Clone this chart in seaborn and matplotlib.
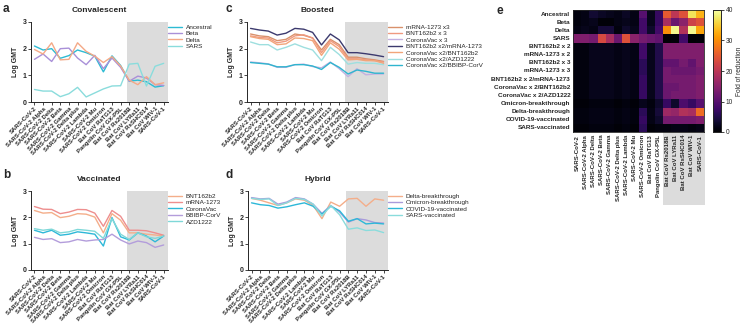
import numpy as np
import pandas as pd
import matplotlib
matplotlib.use("Agg")
import matplotlib.pyplot as plt
import matplotlib.transforms as mtransforms
from matplotlib.patches import Rectangle
import seaborn as sns

# ---------------------------------------------------------
# Data
# ---------------------------------------------------------
variants = ["SARS-CoV-2", "SARS-CoV-2 Alpha", "SARS-CoV-2 Delta", "SARS-CoV-2 Beta",
            "SARS-CoV-2 Gamma", "SARS-CoV-2 Delta plus", "SARS-CoV-2 Lambda", "SARS-CoV-2 Mu",
            "SARS-CoV-2 Omicron", "Bat CoV RaTG13", "Pangolin CoV GX-P5L", "Bat CoV Rs2018B",
            "Bat CoV LYRa11", "Bat CoV RsSHC014", "Bat CoV WIV-1", "SARS-CoV-1"]

# a: Convalescent
conv_ancestral = [2.10, 1.95, 2.00, 1.64, 1.74, 1.95, 1.85, 1.72, 1.13, 1.73, 1.37, 0.78, 0.82, 0.76, 0.56, 0.61]
conv_beta = [1.60, 1.80, 1.52, 2.00, 2.02, 1.65, 1.40, 1.75, 1.25, 1.65, 1.30, 0.78, 0.97, 0.90, 0.65, 0.62]
conv_delta = [1.97, 1.80, 2.22, 1.58, 1.60, 2.22, 1.90, 1.72, 1.48, 1.70, 1.35, 0.82, 0.65, 0.95, 0.65, 0.72]
conv_sars = [0.47, 0.41, 0.41, 0.20, 0.31, 0.55, 0.19, 0.34, 0.49, 0.60, 0.61, 1.42, 1.45, 0.60, 1.34, 1.45]

# b: Vaccinated
vac_bnt = [2.26, 2.16, 2.18, 1.99, 2.04, 2.14, 2.12, 2.01, 1.41, 2.14, 1.89, 1.41, 1.41, 1.36, 1.33, 1.29]
vac_mrna = [2.41, 2.31, 2.30, 2.14, 2.20, 2.30, 2.29, 2.16, 1.66, 2.26, 2.04, 1.51, 1.51, 1.49, 1.41, 1.32]
vac_coronavac = [1.51, 1.41, 1.51, 1.32, 1.36, 1.45, 1.41, 1.36, 0.91, 1.99, 1.26, 1.14, 1.41, 1.29, 1.07, 1.29]
vac_bbibp = [1.24, 1.16, 1.19, 1.04, 1.07, 1.16, 1.10, 1.14, 1.16, 1.36, 1.14, 0.99, 1.10, 1.04, 0.86, 0.95]
vac_azd = [1.57, 1.51, 1.55, 1.41, 1.45, 1.54, 1.51, 1.47, 1.20, 1.95, 1.36, 1.16, 1.41, 1.26, 1.20, 1.29]

# c: Boosted
boost_mrna3 = [2.55, 2.48, 2.45, 2.30, 2.35, 2.55, 2.50, 2.40, 1.95, 2.35, 2.15, 1.68, 1.68, 1.62, 1.58, 1.52]
boost_bnt3 = [2.48, 2.42, 2.40, 2.22, 2.28, 2.48, 2.52, 2.40, 1.85, 2.30, 2.08, 1.62, 1.62, 1.58, 1.55, 1.50]
boost_cv3 = [1.50, 1.47, 1.43, 1.30, 1.30, 1.40, 1.42, 1.33, 1.28, 1.50, 1.25, 0.95, 1.25, 1.02, 1.05, 1.05]
boost_bnt2_mrna = [2.76, 2.70, 2.66, 2.51, 2.58, 2.76, 2.73, 2.61, 2.14, 2.55, 2.33, 1.85, 1.85, 1.81, 1.76, 1.70]
boost_cv2_bnt = [2.45, 2.38, 2.35, 2.15, 2.18, 2.40, 2.38, 2.30, 1.75, 2.22, 1.98, 1.58, 1.60, 1.55, 1.55, 1.45]
boost_cv2_azd = [2.25, 2.15, 2.15, 1.95, 2.05, 2.18, 2.05, 1.95, 1.55, 2.05, 1.78, 1.42, 1.48, 1.45, 1.45, 1.40]
boost_cv2_bbibp = [1.48, 1.45, 1.42, 1.32, 1.32, 1.40, 1.40, 1.35, 1.22, 1.48, 1.30, 1.05, 1.20, 1.15, 1.08, 1.08]

# d: Hybrid
hyb_delta_bt = [2.72, 2.65, 2.55, 2.45, 2.55, 2.70, 2.65, 2.45, 1.95, 2.58, 2.42, 2.70, 2.72, 2.42, 2.70, 2.65]
hyb_omicron_bt = [2.75, 2.70, 2.72, 2.50, 2.58, 2.75, 2.70, 2.50, 2.15, 2.45, 2.20, 1.82, 1.95, 1.90, 1.80, 1.78]
hyb_covid_vac = [2.55, 2.48, 2.45, 2.35, 2.40, 2.48, 2.55, 2.42, 2.12, 2.42, 2.25, 1.85, 1.95, 1.75, 1.78, 1.75]
hyb_sars_vac = [2.72, 2.68, 2.70, 2.45, 2.55, 2.72, 2.68, 2.50, 2.05, 2.45, 2.10, 1.55, 1.60, 1.50, 1.52, 1.42]

# e: fold of reduction heatmap
heat_rows = ["Ancestral", "Beta", "Delta", "SARS", "BNT162b2 x 2", "mRNA-1273 x 2",
             "BNT162b2 x 3", "mRNA-1273 x 3", "BNT162b2 x 2/mRNA-1273", "CoronaVac x 2/BNT162b2",
             "CoronaVac x 2/AZD1222", "Omicron-breakthrough", "Delta-breakthrough",
             "COVID-19-vaccinated", "SARS-vaccinated"]
fold_reduction = [
    [1.0, 1.5, 3.5, 2.5, 2.0, 1.5, 2.5, 1.5, 10.0, 2.0, 7.0, 25.0, 20.0, 24.0, 37.0, 33.0],
    [1.0, 1.5, 2.0, 0.5, 0.5, 1.5, 2.0, 1.5, 8.0, 2.0, 7.0, 18.0, 12.0, 15.0, 22.0, 24.0],
    [1.5, 2.0, 1.5, 4.0, 4.0, 1.0, 3.0, 2.0, 8.0, 3.0, 8.0, 30.0, 39.0, 19.0, 39.0, 32.0],
    [14.0, 14.0, 13.0, 23.0, 18.0, 12.0, 24.0, 15.0, 13.0, 12.0, 11.0, 0.3, 0.5, 8.0, 0.3, 0.5],
    [1.0, 1.0, 2.0, 2.0, 2.0, 1.5, 2.0, 1.5, 8.0, 2.0, 5.0, 14.0, 14.0, 14.0, 14.0, 14.0],
    [1.0, 1.0, 2.0, 2.0, 2.0, 1.5, 2.0, 1.5, 8.0, 2.0, 5.0, 14.0, 14.0, 14.0, 14.0, 14.0],
    [1.0, 1.0, 2.0, 2.0, 2.0, 1.5, 2.0, 1.5, 6.0, 2.0, 5.0, 11.0, 11.0, 13.0, 11.0, 14.0],
    [1.0, 1.0, 2.0, 2.0, 2.0, 1.5, 2.0, 1.5, 6.0, 2.0, 5.0, 13.0, 12.0, 12.0, 12.0, 13.0],
    [1.0, 1.0, 2.0, 2.0, 2.0, 1.5, 2.0, 1.5, 7.0, 2.0, 5.0, 13.0, 13.0, 13.0, 13.0, 14.0],
    [1.0, 1.0, 2.0, 2.0, 2.0, 1.5, 2.0, 1.5, 7.0, 2.0, 5.0, 12.0, 12.0, 13.0, 13.0, 14.0],
    [1.0, 1.0, 2.0, 2.0, 2.0, 1.5, 2.0, 1.5, 7.0, 2.0, 5.0, 12.0, 13.0, 13.0, 13.0, 14.0],
    [0.5, 0.5, 1.0, 1.0, 1.0, 0.5, 1.0, 0.5, 2.0, 1.0, 3.0, 7.0, 3.0, 9.0, 7.0, 10.0],
    [1.0, 1.0, 1.5, 1.5, 1.5, 1.0, 1.5, 1.0, 6.0, 1.5, 4.0, 17.0, 16.0, 19.0, 18.0, 27.0],
    [1.0, 1.0, 1.5, 1.5, 1.5, 1.0, 1.5, 1.0, 7.0, 1.5, 3.0, 13.0, 13.0, 13.0, 13.0, 14.0],
    [0.5, 0.5, 1.0, 1.0, 1.0, 0.5, 1.0, 0.5, 6.0, 0.5, 1.0, 1.0, 1.5, 1.5, 1.0, 1.5],
]

# ---------------------------------------------------------
# Style
# ---------------------------------------------------------
sns.set_style("ticks")
plt.rcParams["font.family"] = ["Liberation Sans", "DejaVu Sans"]
plt.rcParams["axes.linewidth"] = 0.7
plt.rcParams["xtick.major.width"] = 0.6
plt.rcParams["ytick.major.width"] = 0.6
plt.rcParams["xtick.major.size"] = 2.0
plt.rcParams["ytick.major.size"] = 2.0

W, H = 750, 328
fig = plt.figure(figsize=(W / 100, H / 100), dpi=100)


def px_axes(left, top, right, bottom):
    return fig.add_axes([left / W, 1 - bottom / H, (right - left) / W, (bottom - top) / H])


def line_panel(ax, series, palette, title):
    rows = []
    for name, vals in series.items():
        for v, y in zip(variants, vals):
            rows.append({"variant": v, "GMT": y, "group": name})
    df = pd.DataFrame(rows)
    ax.axvspan(10.7, 15.5, color="#DCDCDC", zorder=0, lw=0)
    sns.lineplot(data=df, x="variant", y="GMT", hue="group", hue_order=list(series.keys()),
                 palette=palette, sort=False, linewidth=1.0, ax=ax)
    ax.set_xlim(-0.4, 15.5)
    ax.set_ylim(0, 3)
    ax.set_yticks([0, 1, 2, 3])
    ax.set_xticks(range(len(variants)))
    ax.set_xticklabels(variants, rotation=45, ha="right", rotation_mode="anchor",
                       fontsize=4.3, fontweight="bold")
    for lab in ax.get_yticklabels():
        lab.set_fontsize(5)
        lab.set_fontweight("bold")
    ax.tick_params(axis="both", pad=1)
    ax.set_xlabel("")
    ax.set_ylabel("Log GMT", fontsize=5, fontweight="bold", labelpad=3)
    ax.set_title(title, fontsize=6, fontweight="bold", pad=7)
    sns.despine(ax=ax)
    handles, labels = ax.get_legend_handles_labels()
    ax.legend(handles, labels, loc="upper left", bbox_to_anchor=(1.0, 0.97), frameon=False,
              fontsize=4.6, handlelength=2.2, handletextpad=0.6, labelspacing=0.15,
              borderaxespad=0, borderpad=0)


# a
ax_a = px_axes(31, 22, 168, 102)
line_panel(ax_a, {"Ancestral": conv_ancestral, "Beta": conv_beta, "Delta": conv_delta,
                  "SARS": conv_sars},
           ["#2DBBD3", "#A990D8", "#F4A987", "#8ADCDC"], "Convalescent")

# b
ax_b = px_axes(31, 191, 168, 270)
line_panel(ax_b, {"BNT162b2": vac_bnt, "mRNA-1273": vac_mrna, "CoronaVac": vac_coronavac,
                  "BBIBP-CorV": vac_bbibp, "AZD1222": vac_azd},
           ["#F4AE8A", "#EE8E8E", "#2DB8D8", "#B39DDB", "#7FD8D8"], "Vaccinated")

# c
ax_c = px_axes(247, 22, 388, 102)
line_panel(ax_c, {"mRNA-1273 x3": boost_mrna3, "BNT162b2 x 3": boost_bnt3,
                  "CoronaVac x 3": boost_cv3, "BNT162b2 x2/mRNA-1273": boost_bnt2_mrna,
                  "CoronaVac x2/BNT162b2": boost_cv2_bnt, "CoronaVac x2/AZD1222": boost_cv2_azd,
                  "CoronaVac x2/BBIBP-CorV": boost_cv2_bbibp},
           ["#D9916B", "#F09A80", "#C3B1E1", "#3C3A6E", "#F2A57A", "#9EDFDF", "#2FB5CF"],
           "Boosted")

# d
ax_d = px_axes(248, 191, 388, 270)
line_panel(ax_d, {"Delta-breakthrough": hyb_delta_bt, "Omicron-breakthrough": hyb_omicron_bt,
                  "COVID-19-vaccinated": hyb_covid_vac, "SARS-vaccinated": hyb_sars_vac},
           ["#F4AE8A", "#A99BDB", "#2DB8D8", "#8ADCDC"], "Hybrid")

# e heatmap
ax_e = px_axes(573, 10, 704, 132)
cax = px_axes(713, 10, 721, 132)
heat_df = pd.DataFrame(fold_reduction, index=heat_rows, columns=variants)
sns.heatmap(heat_df, cmap="inferno", vmin=0, vmax=40, ax=ax_e, cbar_ax=cax,
            xticklabels=True, yticklabels=True, cbar_kws={"ticks": [0, 10, 20, 30, 40]})
ax_e.tick_params(axis="both", length=0, pad=2)
ax_e.set_xticklabels(variants, rotation=90, fontsize=4.3, fontweight="bold")
ax_e.set_yticklabels(heat_rows, rotation=0, fontsize=4.6, fontweight="bold")
ax_e.set_xlabel("")
ax_e.set_ylabel("")
for s in ax_e.spines.values():
    s.set_visible(True)
    s.set_linewidth(0.6)
trans = mtransforms.blended_transform_factory(ax_e.transData, ax_e.transAxes)
ax_e.add_patch(Rectangle((11, 0), 5.1, -0.6, transform=trans, clip_on=False,
                         facecolor="#DCDCDC", edgecolor="none", zorder=-1))
cax.tick_params(labelsize=4.8, length=2, width=0.6, pad=1.5)
cax.set_ylabel("Fold of reduction", fontsize=4.8, labelpad=2)
for s in cax.spines.values():
    s.set_visible(True)
    s.set_linewidth(0.6)

# panel letters
for letter, x, y in [("a", 3, 12), ("b", 3, 178), ("c", 225, 12), ("d", 225, 178), ("e", 497, 14)]:
    fig.text(x / W, 1 - y / H, letter, fontsize=8.5, fontweight="bold")

fig.savefig("out.png", dpi=100)
plt.close(fig)
